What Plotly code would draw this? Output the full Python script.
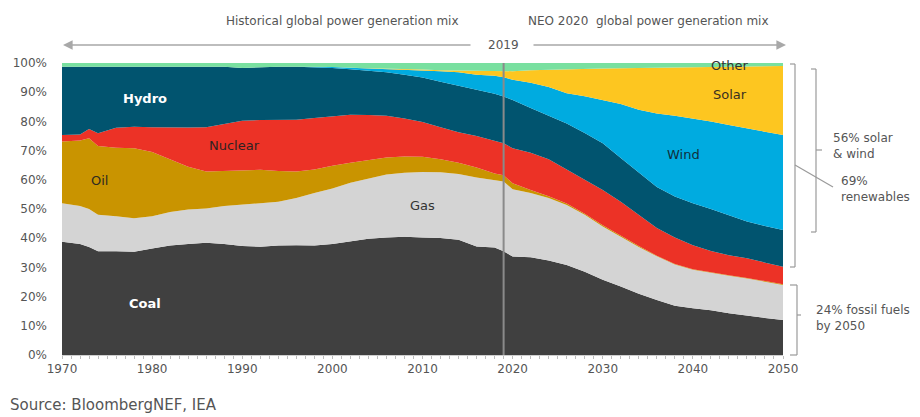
import plotly.graph_objects as go

years = [1970, 1972, 1973, 1974, 1976, 1978, 1980, 1982, 1984, 1986, 1988, 1990, 1992, 1994, 1996, 1998,
         2000, 2002, 2004, 2006, 2008, 2010, 2012, 2014, 2016, 2018,
         2019, 2020,
         2022, 2024, 2026, 2028, 2030, 2032, 2034, 2036, 2038, 2040, 2042, 2044, 2046, 2048, 2050]

coal = [38.8, 38.0, 37.0, 35.5, 35.5, 35.4, 36.5, 37.5, 38.0, 38.4, 38.0, 37.3, 37.1, 37.5, 37.6, 37.5,
        38.0, 39.0, 39.8, 40.2, 40.5, 40.2, 40.1, 39.5, 37.2, 36.8,
        35.5, 33.7,
        33.5, 32.4, 30.8, 28.5, 25.8, 23.5, 21.0, 18.8, 16.9, 16.0, 15.3, 14.3, 13.4, 12.7, 12.0]
gas = [13.2, 13.0, 13.0, 12.5, 12.0, 11.4, 11.0, 11.5, 11.8, 11.8, 13.0, 14.1, 14.9, 15.0, 16.2, 18.0,
       19.0, 20.0, 20.7, 21.6, 21.9, 22.5, 22.5, 22.5, 23.6, 23.0,
       23.9, 23.1,
       22.0, 21.4, 20.6, 19.5, 18.2, 17.0, 16.0, 15.0, 14.1, 13.2, 12.8, 12.8, 12.8, 12.4, 12.0]
oil = [21.1, 22.5, 24.2, 23.6, 23.5, 24.0, 22.0, 18.0, 14.7, 12.6, 12.0, 12.0, 11.4, 10.5, 9.0, 8.0,
       7.8, 6.8, 6.3, 5.8, 5.6, 5.2, 4.4, 3.8, 3.4, 2.4,
       2.2, 2.0,
       1.0, 0.6, 0.5, 0.4, 0.4, 0.3, 0.3, 0.2, 0.2, 0.2, 0.2, 0.2, 0.2, 0.2, 0.2]
nuclear = [2.2, 2.0, 3.2, 4.3, 6.8, 7.4, 8.5, 10.9, 13.4, 15.2, 16.0, 16.8, 17.1, 17.5, 17.8, 17.7,
           17.0, 16.5, 15.4, 14.3, 13.0, 11.9, 11.0, 10.5, 10.8, 11.2,
           10.9, 12.0,
           12.8, 12.6, 11.5, 11.6, 12.1, 11.7, 10.7, 9.5, 9.0, 8.2, 7.3, 6.9, 6.7, 6.4, 6.0]
hydro = [23.4, 23.2, 21.3, 22.8, 20.9, 20.5, 20.7, 20.8, 20.8, 20.7, 19.7, 18.1, 18.1, 18.2, 18.1, 17.4,
         16.5, 15.6, 15.2, 14.9, 15.0, 15.2, 15.6, 15.9, 16.0, 16.1,
         16.0, 16.5,
         15.3, 15.0, 15.9, 16.0, 16.0, 15.0, 14.5, 14.0, 14.1, 14.4, 14.4, 13.6, 12.6, 12.5, 12.6]
wind = [0, 0, 0, 0, 0, 0, 0, 0, 0, 0, 0, 0, 0, 0, 0, 0.1,
        0.3, 0.5, 0.8, 1.2, 1.8, 2.6, 3.6, 4.6, 5.0, 6.1,
        6.6, 7.0,
        8.6, 9.8, 10.3, 12.6, 14.8, 18.5, 21.5, 25.2, 27.6, 29.0, 30.0, 31.0, 31.9, 32.2, 32.5]
solar = [0, 0, 0, 0, 0, 0, 0, 0, 0, 0, 0, 0, 0, 0, 0, 0,
         0.0, 0.0, 0.1, 0.1, 0.1, 0.2, 0.3, 0.6, 1.4, 1.6,
         1.9, 2.9,
         4.3, 5.9, 8.2, 9.4, 10.8, 12.2, 14.3, 15.8, 16.7, 17.7, 18.8, 20.1, 21.3, 22.6, 23.7]
other = [1.3, 1.3, 1.3, 1.3, 1.3, 1.3, 1.3, 1.3, 1.3, 1.3, 1.3, 1.7, 1.4, 1.3, 1.3, 1.3,
         1.4, 1.6, 1.7, 1.9, 2.1, 2.2, 2.5, 2.6, 2.6, 2.8,
         3.0, 2.8,
         2.5, 2.3, 2.2, 2.0, 1.9, 1.8, 1.7, 1.5, 1.4, 1.3, 1.2, 1.1, 1.1, 1.0, 1.0]

series = [
    ("Coal", coal, "#404040"),
    ("Gas", gas, "#d4d4d4"),
    ("Oil", oil, "#c99400"),
    ("Nuclear", nuclear, "#ec3226"),
    ("Hydro", hydro, "#01546f"),
    ("Wind", wind, "#00abe0"),
    ("Solar", solar, "#fdc620"),
    ("Other", other, "#79e0a0"),
]

x_ticks = [1970, 1980, 1990, 2000, 2010, 2020, 2030, 2040, 2050]
y_ticks = [0, 10, 20, 30, 40, 50, 60, 70, 80, 90, 100]
y_tick_text = [f"{v}%" for v in y_ticks]

FONT = "DejaVu Sans"
GREY = "#555555"
LINE_GREY = "#9a9a9a"

fig = go.Figure()
for name, vals, col in series:
    fig.add_trace(go.Scatter(
        x=years, y=vals, name=name, mode="lines", stackgroup="one",
        line=dict(width=0, color=col), fillcolor=col, hoverinfo="skip",
    ))

# plot area in pixels
L, R, T, B = 62, 783, 63, 355
W, H = 920, 417


def px(xp):
    return (xp - L) / (R - L)


def py(yp):
    return (B - yp) / (B - T)


shapes = []
annotations = []

# 2019 divider
shapes.append(dict(type="line", xref="x", yref="paper", x0=2019, x1=2019, y0=0, y1=1,
                   line=dict(color="#8a8a8a", width=2)))

# Top arrows
arrow_y = py(45)
annotations.append(dict(xref="paper", yref="paper", x=px(63), y=arrow_y, ax=472 - 63, ay=0,
                        showarrow=True, arrowhead=2, arrowsize=1.2,
                        arrowwidth=1.6, arrowcolor="#a8a8a8", text=""))
annotations.append(dict(xref="paper", yref="paper", x=px(786), y=arrow_y, ax=532 - 786, ay=0,
                        showarrow=True, arrowhead=2, arrowsize=1.2,
                        arrowwidth=1.6, arrowcolor="#a8a8a8", text=""))
annotations.append(dict(xref="x", yref="paper", x=2019, y=arrow_y, text="2019", showarrow=False,
                        font=dict(family=FONT, size=12, color=GREY), xanchor="center", yanchor="middle"))
annotations.append(dict(xref="paper", yref="paper", x=px(342), y=py(21), text="Historical global power generation mix",
                        showarrow=False, font=dict(family=FONT, size=12, color=GREY),
                        xanchor="center", yanchor="middle"))
annotations.append(dict(xref="paper", yref="paper", x=px(526), y=py(21), text="NEO 2020  global power generation mix",
                        showarrow=False, font=dict(family=FONT, size=12, color=GREY),
                        xanchor="left", yanchor="middle"))

# In-chart labels
labels = [
    ("Hydro", 1979.2, 87.9, "white", True),
    ("Nuclear", 1989.1, 71.6, "#2e2222", False),
    ("Oil", 1974.2, 59.7, "#2e2a20", False),
    ("Coal", 1979.2, 17.7, "white", True),
    ("Gas", 2010.0, 51.1, "#333333", False),
    ("Wind", 2039.0, 68.5, "#10303c", False),
    ("Solar", 2044.1, 89.3, "#3a3020", False),
    ("Other", 2044.1, 99.3, "#333333", False),
]
for text, xv, yv, col, bold in labels:
    annotations.append(dict(xref="x", yref="y", x=xv, y=yv,
                            text=f"<b>{text}</b>" if bold else text, showarrow=False,
                            font=dict(family=FONT, size=13, color=col),
                            xanchor="center", yanchor="middle"))

bl = dict(color=LINE_GREY, width=1.2)


def seg(x0, y0, x1, y1):
    shapes.append(dict(type="line", xref="paper", yref="paper",
                       x0=px(x0), y0=py(y0), x1=px(x1), y1=py(y1), line=bl))


# 69% renewables bracket
seg(790, 64, 795, 64)
seg(795, 64, 795, 267)
seg(790, 267, 795, 267)
seg(795, 165, 833, 187)
# 56% solar & wind bracket
seg(811, 69, 816, 69)
seg(816, 69, 816, 232)
seg(811, 232, 816, 232)
seg(816, 150, 822, 150)
# 24% fossil bracket
seg(790, 285, 797, 285)
seg(797, 285, 797, 355)
seg(790, 355, 797, 355)
seg(797, 315, 801, 315)

side_font = dict(family=FONT, size=12, color=GREY)
annotations.append(dict(xref="paper", yref="paper", x=px(831), y=py(146), text="56% solar<br>& wind",
                        showarrow=False, font=side_font, xanchor="left", yanchor="middle", align="left"))
annotations.append(dict(xref="paper", yref="paper", x=px(839), y=py(189), text="69%<br>renewables",
                        showarrow=False, font=side_font, xanchor="left", yanchor="middle", align="left"))
annotations.append(dict(xref="paper", yref="paper", x=px(814), y=py(318), text="24% fossil fuels<br>by 2050",
                        showarrow=False, font=side_font, xanchor="left", yanchor="middle", align="left"))

# Source
annotations.append(dict(xref="paper", yref="paper", x=px(8), y=py(405), text="Source: BloombergNEF, IEA",
                        showarrow=False, font=dict(family=FONT, size=15, color=GREY),
                        xanchor="left", yanchor="middle"))

fig.update_layout(
    width=W, height=H,
    margin=dict(l=L, r=W - R, t=T, b=H - B),
    paper_bgcolor="white", plot_bgcolor="white",
    showlegend=False,
    font=dict(family=FONT, size=12, color=GREY),
    shapes=shapes, annotations=annotations,
    xaxis=dict(range=[1970, 2050], tickvals=x_ticks, ticktext=[str(v) for v in x_ticks],
               showgrid=False, zeroline=False, showline=True, linecolor="#cfcfcf", linewidth=1,
               ticks="outside", ticklen=3, tickcolor="#bdbdbd",
               minor=dict(dtick=1, ticks="outside", ticklen=3, tickcolor="#bdbdbd", showgrid=False),
               tickfont=dict(family=FONT, size=12, color=GREY), fixedrange=True),
    yaxis=dict(range=[0, 100], tickvals=y_ticks, ticktext=y_tick_text, showgrid=False,
               zeroline=False, showline=False, ticks="", ticklabelstandoff=14,
               tickfont=dict(family=FONT, size=12, color=GREY), fixedrange=True),
)

fig.write_html("out.html", config={"displayModeBar": False},
               post_script="document.body.style.margin='0';document.body.style.overflow='hidden';")
